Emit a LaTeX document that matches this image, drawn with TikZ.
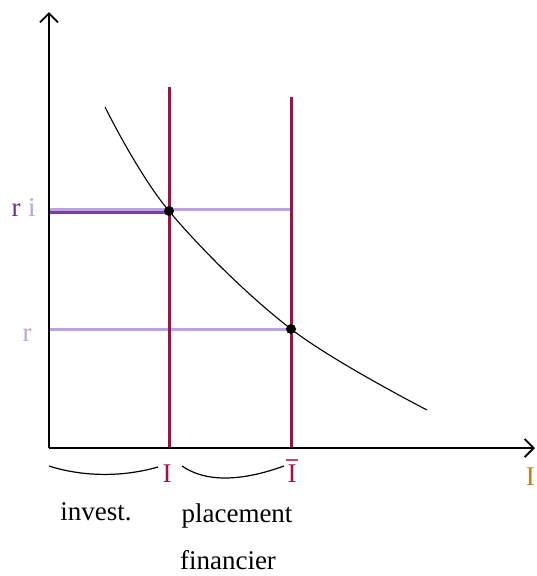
\documentclass[tikz,border=0pt]{standalone}
\usepackage{fontspec}
\setmainfont{Liberation Serif}
\usetikzlibrary{arrows.meta}
\definecolor{crim}{HTML}{A50D45}
\definecolor{lav}{HTML}{B9A3DC}
\definecolor{dpur}{HTML}{7A3DA0}
\definecolor{rlab}{HTML}{6B2F8F}
\definecolor{org}{HTML}{C08020}
\tikzset{
  axis/.style={line width=2.5pt,-{Straight Barb[length=9pt,width=18pt,line width=1.8pt]}},
  redline/.style={crim,line width=3pt},
  lavline/.style={lav,line width=3pt},
  dot/.style={circle,fill=black,inner sep=0pt,minimum size=10pt},
  lbl/.style={font=\fontsize{27}{32}\selectfont,inner sep=0pt},
  brace/.style={line width=1.2pt}
}
\begin{document}
\begin{tikzpicture}[x=1pt,y=-1pt]
\useasboundingbox (0,0) rectangle (536,576);
% coordinates
\coordinate (O) at (49,448);
\coordinate (Ytop) at (49,12);
\coordinate (Xend) at (535,448);
\coordinate (R1top) at (169,87);
\coordinate (R1bot) at (169,448);
\coordinate (R2top) at (291,97);
\coordinate (R2bot) at (291,448);
\coordinate (L1a) at (49,209);
\coordinate (L1b) at (290,209);
\coordinate (L2a) at (49,329);
\coordinate (L2b) at (291,329);
\coordinate (P1a) at (49,212);
\coordinate (P1b) at (169,212);
% lines
\draw[lavline] (L1a) -- (L1b);
\draw[lavline] (L2a) -- (L2b);
\draw[dpur,line width=3pt] (P1a) -- (P1b);
\draw[redline] (R1top) -- (R1bot);
\draw[redline] (R2top) -- (R2bot);
\node[dot] (A) at (169,211) {};
\node[dot] (B) at (291,329) {};
\draw[line width=1.1pt] plot[smooth,tension=0.6] coordinates {(105,107) (169,211) (291,329) (427,410)};
\draw[axis] (O) -- (Ytop);
\draw[axis] (O) -- (Xend);
% labels left
\node[lbl,text=rlab,anchor=base] (rr) at (16,216) {r};
\node[lbl,text=lav,anchor=base] (ri) at (32,216) {i};
\node[lbl,text=lav,anchor=base] (r2) at (27,341) {r};
% axis labels
\node[lbl,text=crim,anchor=base] (I1) at (167,482) {I};
\node[lbl,text=crim,anchor=base] (I2) at (292,482) {I};
\draw[crim!75,line width=1.3pt] ([yshift=4pt,xshift=-1pt]I2.north west) -- ([yshift=4pt,xshift=1pt]I2.north east);
\node[lbl,text=org,anchor=base east,text depth=0pt] (Ix) at (535,485) {I};
% braces
\coordinate (B1a) at (49,466);
\coordinate (B1b) at (158,467);
\coordinate (B2a) at (182,466);
\coordinate (B2b) at (284,466);
\draw[brace] (B1a) .. controls (80,476) and (120,478) .. (B1b);
\draw[brace] (B2a) .. controls (205,482) and (240,482) .. (B2b);
% texts
\node[lbl,anchor=base] (inv) at (96,520) {invest.};
\node[lbl,anchor=base] (pla) at (237,522) {placement};
\node[lbl,anchor=base,text depth=0pt] (fin) at (228,569) {financier};
\end{tikzpicture}
\end{document}
